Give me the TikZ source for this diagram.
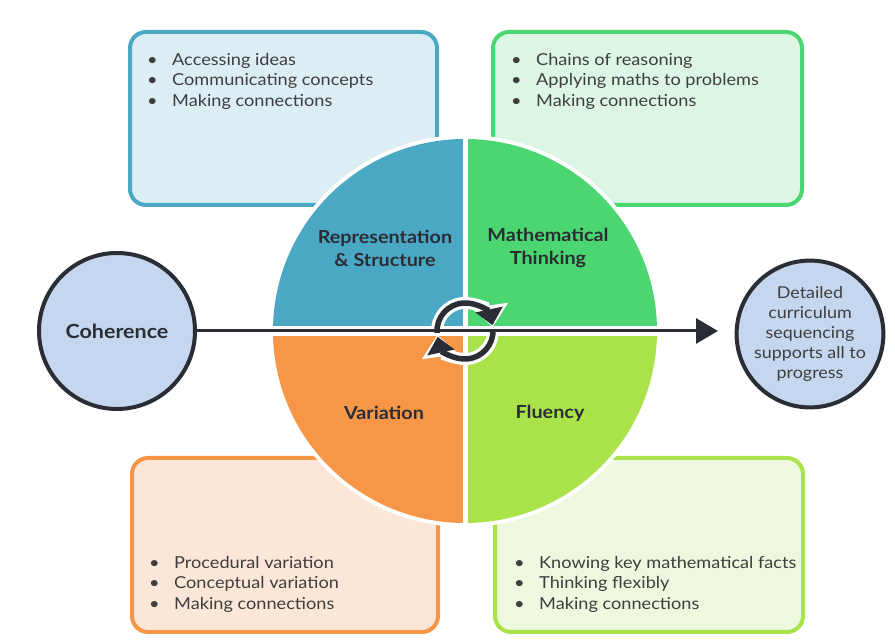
\documentclass[tikz,border=0pt]{standalone}
\usepackage{fontspec}
\setmainfont{Lato}[FakeStretch=1.1]
\usetikzlibrary{arrows.meta}

\definecolor{repblue}{HTML}{4AA8C4}
\definecolor{repfill}{HTML}{DCEDF3}
\definecolor{mathgreen}{HTML}{4CD672}
\definecolor{mathfill}{HTML}{DDF5E4}
\definecolor{varorange}{HTML}{F69646}
\definecolor{varfill}{HTML}{FCE6D7}
\definecolor{flulime}{HTML}{A9E349}
\definecolor{flufill}{HTML}{EDF8DF}
\definecolor{cohfill}{HTML}{C5D6EF}
\definecolor{darkline}{HTML}{2B2D35}
\definecolor{txtgray}{HTML}{3E3E3E}

\newcommand\bul{\makebox[25pt][l]{\textbullet}}

\tikzset{
  infobox/.style={line width=4pt, rounded corners=16pt},
  bullets/.style={anchor=north west, inner sep=0pt, align=left,
    font=\fontsize{16.5}{20.5}\selectfont, text=txtgray},
  quadlabel/.style={font=\fontsize{18}{23}\selectfont\bfseries,
    text=darkline, align=center},
  ring/.style={circle, draw=darkline, line width=4pt, fill=cohfill,
    inner sep=0pt, align=center}
}

\begin{document}
\begin{tikzpicture}[x=1pt,y=1pt]
\useasboundingbox (0,0) rectangle (895,642);

%Kaesten mit Stichpunkten
\filldraw[infobox, draw=repblue, fill=repfill] (130,437) rectangle (437,610);
\filldraw[infobox, draw=mathgreen, fill=mathfill] (493,437) rectangle (802,610);
\filldraw[infobox, draw=varorange, fill=varfill] (132,10) rectangle (438,184);
\filldraw[infobox, draw=flulime, fill=flufill] (495,10) rectangle (803,184);

\node[bullets] (replist) at (147,589)
  {\bul Accessing ideas\\\bul Communicating concepts\\\bul Making connections};
\node[bullets] (mathlist) at (511,589)
  {\bul Chains of reasoning\\\bul Applying maths to problems\\\bul Making connections};
\node[bullets] (varlist) at (149,86)
  {\bul Procedural variation\\\bul Conceptual variation\\\bul Making connections};
\node[bullets] (flulist) at (514,86)
  {\bul Knowing key mathematical facts\\\bul Thinking flexibly\\\bul Making connections};

%Kreis mit vier Vierteln
\coordinate (mid) at (465,311);
\fill[white] (mid) circle[radius=196];
\fill[repblue] (mid) -- ++(90:192) arc[start angle=90, end angle=180, radius=192] -- cycle;
\fill[mathgreen] (mid) -- ++(0:192) arc[start angle=0, end angle=90, radius=192] -- cycle;
\fill[varorange] (mid) -- ++(180:192) arc[start angle=180, end angle=270, radius=192] -- cycle;
\fill[flulime] (mid) -- ++(270:192) arc[start angle=270, end angle=360, radius=192] -- cycle;
\draw[white, line width=5pt] ([yshift=196]mid) -- ([yshift=-196]mid);
\draw[white, line width=10pt] ([xshift=-196]mid) -- ([xshift=196]mid);

\node[quadlabel] (rep) at (385,394) {Representation\\\& Structure};
\node[quadlabel] (math) at (548,394) {Mathematical\\Thinking};
\node[quadlabel] (var) at (384,229) {Variation};
\node[quadlabel] (flu) at (550,229) {Fluency};

%Kreispfeile in der Mitte
\foreach \a in {0,180} {
  \draw[white, line width=12pt, -{Triangle[length=22pt,width=36pt]}]
    (mid) ++(186+\a:28) arc[start angle=186+\a, end angle=8+\a, radius=28];
  \draw[darkline, line width=5.5pt, -{Triangle[length=16pt,width=27pt]}]
    (mid) ++(184+\a:28) arc[start angle=184+\a, end angle=12+\a, radius=28];
}

%Kreise links und rechts
\node[ring, minimum size=156pt, font=\fontsize{19.5}{22}\selectfont\bfseries, text=darkline]
  (coh) at (117,311) {Coherence};
\node[ring, minimum size=142pt, font=\fontsize{16.3}{20}\selectfont, text=txtgray]
  (goal) at (810,308) {Detailed\\curriculum\\sequencing\\supports all to\\progress};

%Pfeil
\coordinate (tip) at (718,311);
\draw[darkline, line width=3pt, -{Triangle[length=22pt,width=25pt]}] (coh) -- (tip);

\end{tikzpicture}
\end{document}
